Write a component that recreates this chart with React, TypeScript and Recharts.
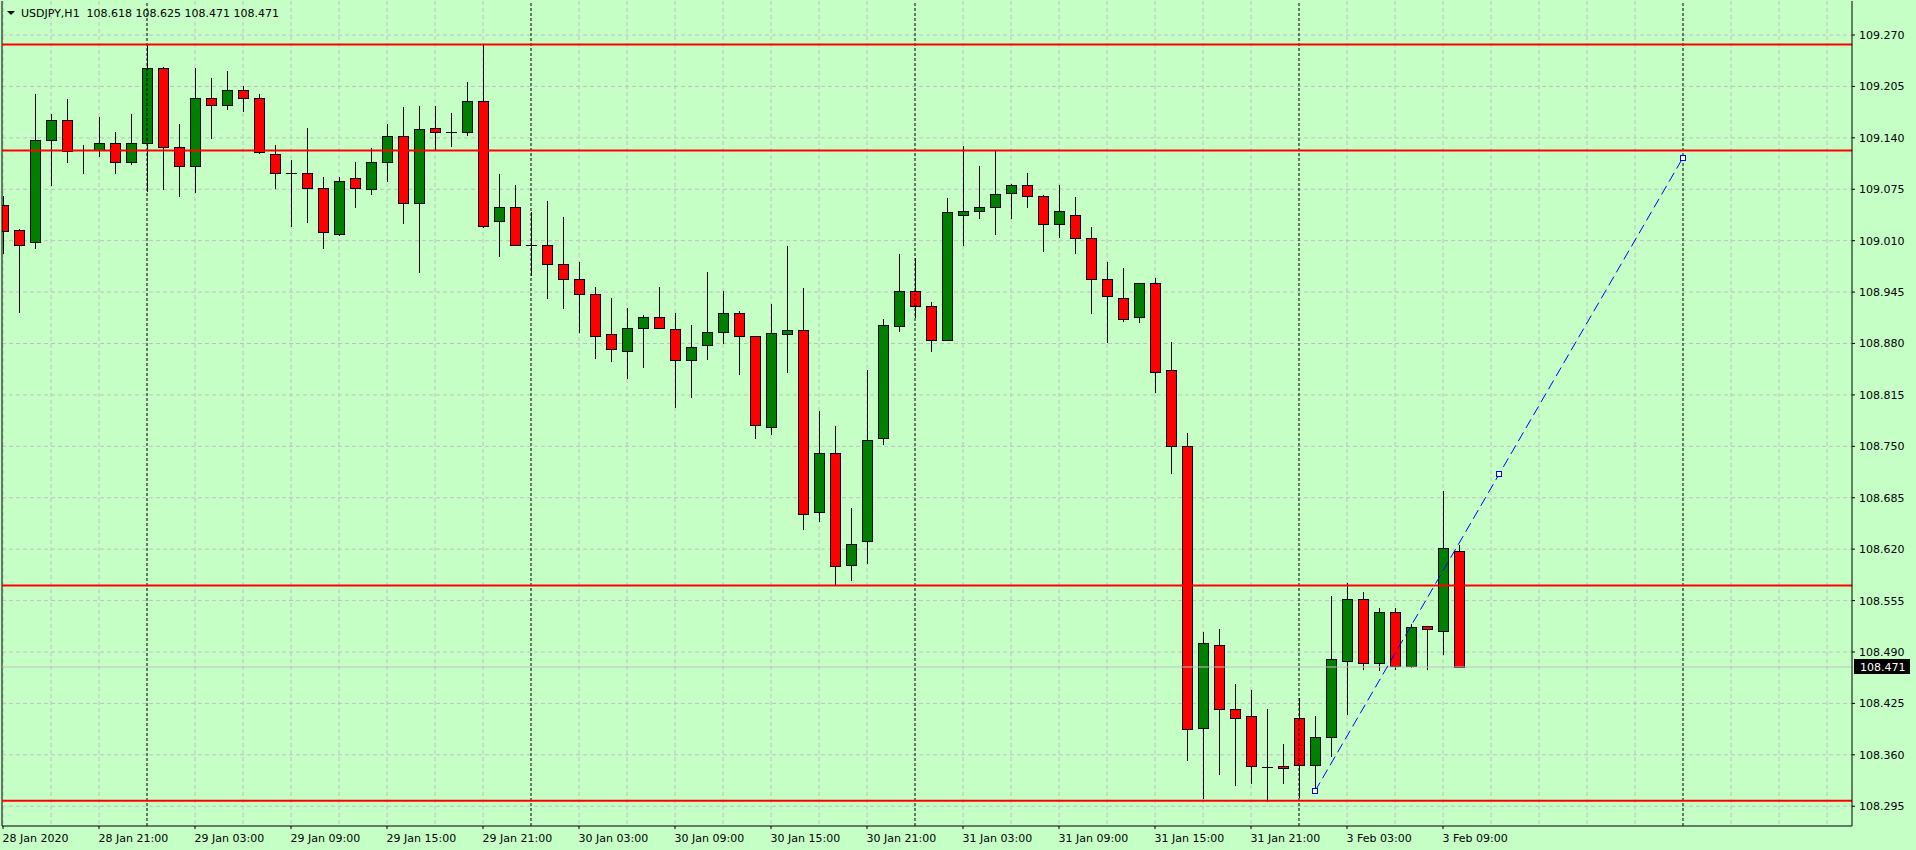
import React from 'react';
import { ComposedChart, Bar, Line, XAxis, YAxis, CartesianGrid, ReferenceLine } from 'recharts';

const BG = '#C6FFC6';
const FONT = 'DejaVu Sans';

const symbolName = 'USDJPY,H1';

const opens = [
  109.055, 109.023, 109.008, 109.137, 109.162, 109.124, 109.125, 109.133, 109.109, 109.133,
  109.228, 109.129, 109.104, 109.191, 109.182, 109.200, 109.191, 109.120, 109.095, 109.095,
  109.076, 109.018, 109.089, 109.075, 109.109, 109.142, 109.058, 109.153, 109.148, 109.147,
  109.186, 109.035, 109.052, 109.005, 109.004, 108.981, 108.961, 108.942, 108.892, 108.871,
  108.900, 108.914, 108.898, 108.859, 108.878, 108.895, 108.918, 108.889, 108.775, 108.892,
  108.897, 108.667, 108.742, 108.600, 108.630, 108.761, 108.902, 108.947, 108.927, 108.885,
  109.042, 109.047, 109.053, 109.070, 109.081, 109.067, 109.031, 109.043, 109.013, 108.961,
  108.938, 108.914, 108.956, 108.846, 108.751, 108.394, 108.499, 108.418, 108.409, 108.345,
  108.346, 108.406, 108.347, 108.383, 108.478, 108.557, 108.476, 108.540, 108.472, 108.523,
  108.516, 108.618,
];
const highs = [
  109.066, 109.025, 109.195, 109.170, 109.189, 109.131, 109.166, 109.147, 109.170, 109.259,
  109.229, 109.158, 109.228, 109.216, 109.225, 109.206, 109.195, 109.131, 109.112, 109.152,
  109.091, 109.091, 109.110, 109.127, 109.158, 109.179, 109.180, 109.180, 109.171, 109.210,
  109.257, 109.094, 109.080, 109.046, 109.060, 109.040, 108.983, 108.951, 108.937, 108.925,
  108.916, 108.952, 108.919, 108.903, 108.971, 108.946, 108.921, 108.890, 108.930, 109.003,
  108.950, 108.795, 108.776, 108.672, 108.847, 108.911, 108.993, 108.988, 108.933, 109.064,
  109.130, 109.104, 109.123, 109.082, 109.096, 109.068, 109.080, 109.065, 109.027, 108.983,
  108.976, 108.957, 108.963, 108.882, 108.767, 108.515, 108.519, 108.450, 108.442, 108.418,
  108.374, 108.432, 108.409, 108.561, 108.577, 108.566, 108.545, 108.545, 108.526, 108.523,
  108.693, 108.625,
];
const lows = [
  108.994, 108.920, 109.001, 109.081, 109.109, 109.095, 109.117, 109.095, 109.107, 109.073,
  109.075, 109.067, 109.071, 109.140, 109.177, 109.174, 109.121, 109.076, 109.028, 109.033,
  109.001, 109.017, 109.052, 109.069, 109.086, 109.032, 108.970, 109.124, 109.130, 109.143,
  109.027, 108.990, 109.004, 108.967, 108.938, 108.925, 108.895, 108.862, 108.858, 108.837,
  108.850, 108.899, 108.800, 108.812, 108.860, 108.880, 108.841, 108.760, 108.766, 108.844,
  108.646, 108.655, 108.575, 108.581, 108.603, 108.753, 108.896, 108.914, 108.871, 108.884,
  109.005, 109.039, 109.018, 109.039, 109.052, 108.997, 109.015, 108.995, 108.918, 108.882,
  108.909, 108.907, 108.819, 108.716, 108.353, 108.305, 108.336, 108.322, 108.324, 108.301,
  108.324, 108.307, 108.314, 108.359, 108.412, 108.468, 108.467, 108.468, 108.471, 108.469,
  108.488, 108.471,
];
const closes = [
  109.022, 109.004, 109.137, 109.163, 109.123, 109.124, 109.134, 109.110, 109.133, 109.228,
  109.128, 109.105, 109.191, 109.181, 109.200, 109.190, 109.122, 109.095, 109.095, 109.076,
  109.021, 109.085, 109.077, 109.109, 109.142, 109.058, 109.151, 109.148, 109.147, 109.186,
  109.029, 109.052, 109.005, 109.005, 108.980, 108.961, 108.943, 108.890, 108.873, 108.900,
  108.914, 108.899, 108.859, 108.876, 108.894, 108.918, 108.889, 108.777, 108.893, 108.897,
  108.665, 108.741, 108.599, 108.627, 108.758, 108.904, 108.946, 108.927, 108.884, 109.046,
  109.047, 109.052, 109.069, 109.081, 109.066, 109.031, 109.047, 109.014, 108.961, 108.940,
  108.911, 108.956, 108.844, 108.750, 108.392, 108.501, 108.418, 108.407, 108.346, 108.345,
  108.343, 108.347, 108.382, 108.481, 108.557, 108.476, 108.541, 108.472, 108.521, 108.519,
  108.622, 108.471,
];

const xTickIdx = [0, 6, 12, 18, 24, 30, 36, 42, 48, 54, 60, 66, 72, 78, 84, 90];
const xTickLabels = [
  '28 Jan 2020', '28 Jan 21:00', '29 Jan 03:00', '29 Jan 09:00', '29 Jan 15:00', '29 Jan 21:00',
  '30 Jan 03:00', '30 Jan 09:00', '30 Jan 15:00', '30 Jan 21:00', '31 Jan 03:00', '31 Jan 09:00',
  '31 Jan 15:00', '31 Jan 21:00', '3 Feb 03:00', '3 Feb 09:00',
];
const yTicks = [
  108.295, 108.36, 108.425, 108.49, 108.555, 108.62, 108.685, 108.75,
  108.815, 108.88, 108.945, 109.01, 109.075, 109.14, 109.205, 109.27,
];
const xDomain = [-0.0625, 115.5625];
const yDomain = [108.27, 109.313];
const gridX = [
  0, 3, 6, 12, 15, 18, 21, 24, 27, 30, 36, 39, 42, 45, 48, 51, 54, 60, 63, 66, 69, 72, 75, 78,
  84, 87, 90, 93, 96, 99, 102, 108, 111, 114,
];
const daySeparators = [9, 33, 57, 81, 105];
const levelLines = [109.258, 109.124, 108.574, 108.302];
const trendIdx = [82, 93.5, 105];
const trendPrice = [108.314, 108.7145, 109.115];
const lastPrice = 108.471;

const candles = opens.map((o, i) => ({ i, o, h: highs[i], l: lows[i], c: closes[i] }));
const trend = trendIdx.map((i, k) => ({ i, p: trendPrice[k] }));
const last = candles[candles.length - 1];

const Candle = (props: any) => {
  const { x, y, width, height, payload } = props;
  if (x == null || y == null || !payload) return null;
  const top = Math.min(y, y + height);
  const bot = Math.max(y, y + height);
  const { o, h, l, c } = payload;
  const span = h - l;
  const py = (v: number) => (span > 0 ? top + ((h - v) / span) * (bot - top) : top);
  const cx = Math.round(x + width / 2);
  const yH = Math.round(top);
  const yL = Math.round(bot);
  const yO = Math.round(py(o));
  const yC = Math.round(py(c));
  const bTop = Math.min(yO, yC);
  const bBot = Math.max(yO, yC);
  const up = c > o;
  return (
    <g>
      <line x1={cx + 0.5} x2={cx + 0.5} y1={yH} y2={yL + 1} stroke="#000" strokeWidth={1} />
      {bBot - bTop < 1 ? (
        <line x1={cx - 5} x2={cx + 6} y1={bTop + 0.5} y2={bTop + 0.5} stroke="#000" strokeWidth={1} />
      ) : (
        <rect
          x={cx - 4.5}
          y={bTop + 0.5}
          width={10}
          height={bBot - bTop}
          fill={up ? '#008000' : '#FF0000'}
          stroke="#000"
          strokeWidth={1}
        />
      )}
    </g>
  );
};

const XTick = (props: any) => {
  const { x, y, payload } = props;
  const k = xTickIdx.indexOf(payload.value);
  return (
    <text x={x - 0.5} y={y + 11} fontFamily={FONT} fontSize={11} fill="#000" textAnchor="start">
      {k >= 0 ? xTickLabels[k] : ''}
    </text>
  );
};

const YTick = (props: any) => {
  const { x, y, payload } = props;
  return (
    <text x={x} y={y + 4} fontFamily={FONT} fontSize={11} fill="#000" textAnchor="start">
      {Number(payload.value).toFixed(3)}
    </text>
  );
};

const PriceLabel = (props: any) => {
  const vb = props.viewBox || {};
  const x0 = (vb.x || 0) + (vb.width || 0);
  const y0 = Math.round(vb.y || 0);
  return (
    <g>
      <rect x={x0 + 2} y={y0 - 8} width={56} height={15} fill="#000" />
      <text x={x0 + 8} y={y0 + 4} fontFamily={FONT} fontSize={11} fill="#FFF" textAnchor="start">
        {lastPrice.toFixed(3)}
      </text>
    </g>
  );
};

const SquareDot = (props: any) => {
  const { cx, cy, index } = props;
  if (cx == null || cy == null) return null;
  return (
    <rect
      key={`sq-${index}`}
      x={Math.round(cx) - 2.5}
      y={Math.round(cy) - 2.5}
      width={5}
      height={5}
      fill="#FFFFFF"
      stroke="#0000FF"
      strokeWidth={1}
    />
  );
};

export default function App() {
  return (
    <div
      style={{
        position: 'fixed',
        left: 0,
        top: 0,
        width: 1916,
        height: 850,
        background: BG,
        overflow: 'hidden',
      }}
    >
      <ComposedChart
        width={1916}
        height={850}
        data={candles}
        margin={{ top: 1, right: 0, bottom: 0, left: 2 }}
      >
        <CartesianGrid
          stroke="#C0C0C0"
          strokeDasharray="4 3"
          verticalValues={gridX}
          horizontalValues={yTicks}
        />
        <XAxis
          dataKey="i"
          type="number"
          domain={xDomain}
          allowDataOverflow
          ticks={xTickIdx}
          interval={0}
          height={24}
          tickSize={3}
          tickMargin={2}
          tick={<XTick />}
          axisLine={{ stroke: '#000' }}
          tickLine={{ stroke: '#000' }}
        />
        <YAxis
          orientation="right"
          type="number"
          domain={yDomain}
          allowDataOverflow
          ticks={yTicks}
          interval={0}
          width={64}
          tickSize={3}
          tickMargin={4}
          tick={<YTick />}
          axisLine={{ stroke: '#000' }}
          tickLine={{ stroke: '#000' }}
        />
        <ReferenceLine x={xDomain[0]} stroke="#000" strokeWidth={1} />
        {daySeparators.map((s) => (
          <ReferenceLine key={`sep-${s}`} x={s} stroke="#000" strokeDasharray="3 2" strokeWidth={1} />
        ))}
        <ReferenceLine y={lastPrice} stroke="#C0C0C0" strokeWidth={1} label={<PriceLabel />} />
        <Bar
          dataKey={(d: any) => [d.l, d.h]}
          barSize={10}
          shape={<Candle />}
          isAnimationActive={false}
        />
        {levelLines.map((v) => (
          <ReferenceLine key={`lvl-${v}`} y={v} stroke="#FF0000" strokeWidth={2} />
        ))}
        <Line
          data={trend}
          dataKey="p"
          type="linear"
          stroke="#0000FF"
          strokeWidth={1}
          strokeDasharray="10 5"
          dot={<SquareDot />}
          activeDot={false}
          isAnimationActive={false}
        />
      </ComposedChart>
      <svg
        width={400}
        height={24}
        style={{ position: 'absolute', left: 0, top: 0, pointerEvents: 'none' }}
      >
        <polygon points="7,11 15,11 11,15" fill="#000" />
        <text x={21} y={17} fontFamily={FONT} fontSize={11} fill="#000" style={{ whiteSpace: 'pre' }}>
          {`${symbolName}  ${last.o.toFixed(3)} ${last.h.toFixed(3)} ${last.l.toFixed(3)} ${last.c.toFixed(3)}`}
        </text>
      </svg>
    </div>
  );
}
